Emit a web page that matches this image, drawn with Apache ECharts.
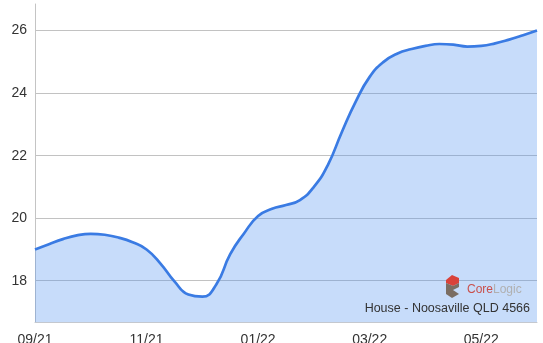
<!DOCTYPE html>
<html>
<head>
<meta charset="utf-8">
<script src="https://cdn.jsdelivr.net/npm/echarts@6/dist/echarts.min.js"></script>
<style>
html,body{margin:0;padding:0;background:#fff;}
#chart{width:543px;height:343px;}
</style>
</head>
<body>
<div id="chart"></div>
<script>
// Quarter-month sample dates (Sep 2021 – Jun 2022)
const dates = [
  '2021-09-01','2021-09-08','2021-09-16','2021-09-23',
  '2021-10-01','2021-10-08','2021-10-16','2021-10-23',
  '2021-11-01','2021-11-08','2021-11-16','2021-11-23',
  '2021-12-01','2021-12-08','2021-12-16','2021-12-23',
  '2022-01-01','2022-01-08','2022-01-16','2022-01-23',
  '2022-02-01','2022-02-08','2022-02-16','2022-02-23',
  '2022-03-01','2022-03-08','2022-03-16','2022-03-23',
  '2022-04-01','2022-04-08','2022-04-16','2022-04-23',
  '2022-05-01','2022-05-08','2022-05-16','2022-05-23',
  '2022-06-01'];
const values = [
  19.0, 19.17, 19.33, 19.45,
  19.5, 19.47, 19.38, 19.23,
  19.0, 18.55, 17.98, 17.56,
  17.49, 17.88, 18.85, 19.52,
  20.07, 20.3, 20.42, 20.58,
  21.0, 21.7, 22.75, 23.73,
  24.52, 25.0, 25.27, 25.41,
  25.51, 25.57, 25.55, 25.49,
  25.51, 25.59, 25.71, 25.85,
  26.0];
const yTicks = [18, 20, 22, 24, 26];
const yMin = 16.68;
const yMax = 26.85;
const sourceLabel = 'House - Noosaville QLD 4566';

const chart = echarts.init(document.getElementById('chart'), null, {renderer: 'canvas'});
chart.setOption({
  animation: false,
  backgroundColor: '#ffffff',
  grid: {left: 35, right: 6, top: 4, bottom: 21, containLabel: false, outerBoundsMode: 'none'},
  xAxis: {
    type: 'category',
    data: dates,
    boundaryGap: false,
    axisLine: {show: true, lineStyle: {color: '#c4c8cf', width: 1}},
    axisTick: {show: false},
    splitLine: {show: false},
    axisLabel: {
      interval: 7,
      margin: 11,
      color: '#333333',
      fontSize: 14,
      fontFamily: 'Liberation Sans, Arial, sans-serif',
      formatter: function (v) { return v.slice(5, 7) + '/' + v.slice(2, 4); }
    }
  },
  yAxis: {
    type: 'value',
    min: yMin,
    max: yMax,
    position: 'left',
    axisLine: {show: true, lineStyle: {color: '#c4c4c4', width: 1}},
    axisTick: {show: false, customValues: yTicks},
    splitLine: {show: true, lineStyle: {color: '#c2c2c2', width: 1}},
    axisLabel: {
      customValues: yTicks,
      margin: 8,
      color: '#333333',
      fontSize: 14,
      fontFamily: 'Liberation Sans, Arial, sans-serif'
    }
  },
  series: [{
    type: 'line',
    data: values,
    smooth: 0.5,
    symbol: 'none',
    lineStyle: {color: '#3a7be3', width: 2.7},
    areaStyle: {color: '#4a8fef', opacity: 0.31, origin: 'start'},
    z: 2
  }],
  graphic: [
    {type: 'polygon', shape: {points: [[446,280],[452,275],[459,278],[459,283],[453,286],[446,283]]}, style: {fill: '#d9423a'}, z: 10},
    {type: 'polygon', shape: {points: [[446,283],[453,286],[459,283],[459,287],[453,290],[459,294],[452,298],[446,294]]}, style: {fill: '#7b6e63'}, z: 10},
    {type: 'text', x: 467, y: 290, style: {
      text: '{a|Core}{b|Logic}',
      verticalAlign: 'middle',
      rich: {
        a: {fill: '#c9504c', fontSize: 12, fontFamily: 'Liberation Sans, Arial, sans-serif'},
        b: {fill: '#b0b0b0', fontSize: 12, fontFamily: 'Liberation Sans, Arial, sans-serif'}
      }
    }, z: 10},
    {type: 'text', x: 530, y: 309, style: {
      text: sourceLabel, align: 'right', verticalAlign: 'middle',
      fill: '#333333', fontSize: 12.5, fontFamily: 'Liberation Sans, Arial, sans-serif'
    }, z: 10}
  ]
});
</script>
</body>
</html>
